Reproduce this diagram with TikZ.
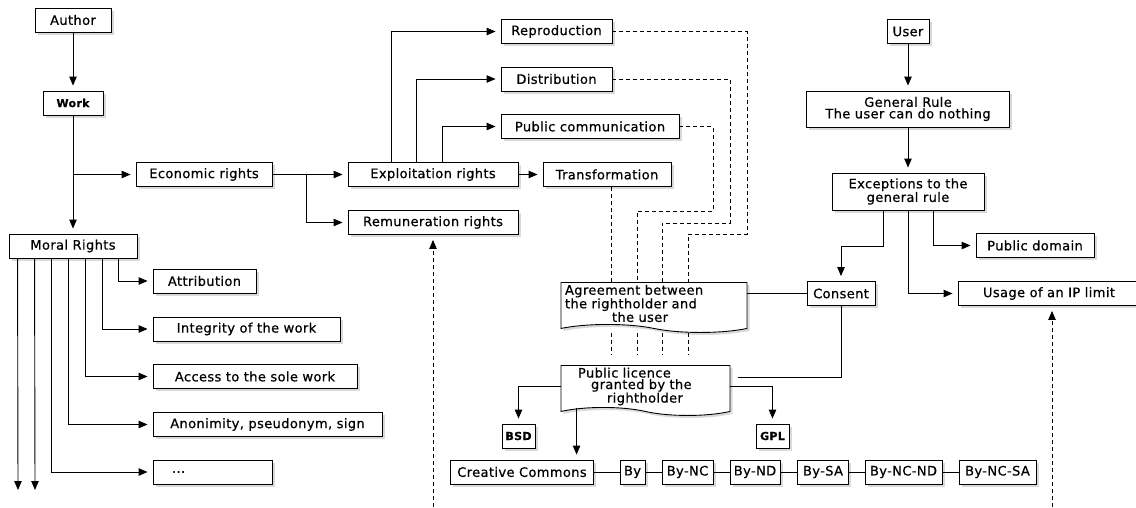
\documentclass[tikz,border=0pt]{standalone}
\usepackage{fontspec}
\setmainfont{DejaVu Sans}[LetterSpace=3.0, FakeBold=0.6]
\usetikzlibrary{arrows.meta, positioning, shapes.symbols, shadows}

\begin{document}
\begin{tikzpicture}[x=1pt, y=1pt, on grid, line width=0.9pt, >={Triangle[length=9pt,width=7.5pt]},
    font=\fontsize{13}{11.5}\selectfont,
    bx/.style={draw, fill=white, minimum height=24pt, inner sep=2pt,
      drop shadow={shadow xshift=2.5pt, shadow yshift=-2.5pt, opacity=.3}},
    sbx/.style={bx, font=\fontsize{11}{12}\selectfont\bfseries},
    doc/.style={bx, shape=tape, tape bend top=none, tape bend bottom=out and in,
      tape bend height=8pt, minimum height=50pt, align=left, anchor=north},
    arr/.style={->, shorten >=5pt},
    dline/.style={dash pattern=on 4pt off 3pt}]
  \useasboundingbox (0,0) rectangle (1136,-507);

  % author side
  \node[bx, minimum width=76pt] (author) at (73,-20) {Author};
  \node[sbx, minimum width=60pt, below=83pt of author] (work) {Work};
  \node[bx, minimum width=128pt, below=143pt of work] (moral) {Moral Rights};
  \node[bx, minimum width=136pt] (econ) at (204,-174.5) {Economic rights};
  \node[bx, minimum width=103pt] (attrib) at (204.5,-281) {Attribution};
  \node[bx, minimum width=187pt] (integ) at (246.5,-329) {Integrity of the work};
  \node[bx, minimum width=204pt] (access) at (255,-376.5) {Access to the sole work};
  \node[bx, minimum width=229pt] (anon) at (267.5,-424.5) {Anonimity, pseudonym, sign};
  \node[bx, minimum width=119pt, text width=81pt, align=left] (dots) at (212.5,-472) {...};

  % exploitation
  \node[bx, minimum width=170pt] (exploit) at (433,-174.5) {Exploitation rights};
  \node[bx, minimum width=170pt, below=48pt of exploit] (remun) {Remuneration rights};
  \node[bx, minimum width=111pt] (repro) at (556.5,-31.5) {Reproduction};
  \node[bx, minimum width=111pt, below=47.5pt of repro] (distr) {Distribution};
  \node[bx, minimum width=178pt] (pubcom) at (590,-126.5) {Public communication};
  \node[bx, minimum width=128pt] (transf) at (607,-174.5) {Transformation};

  % licences
  \node[doc, minimum width=186pt, text width=178pt] (agree) at (654,-282)
    {Agreement between\\the rightholder and\\\hspace*{47pt}the user};
  \node[bx, minimum width=68pt] (consent) at (841,-293.5) {Consent};
  \node[doc, minimum width=169pt, text width=161pt] (publicl) at (645.5,-365)
    {\hspace*{13pt}Public licence\\\hspace*{26pt}granted by the\\\hspace*{42pt}rightholder};
  \node[sbx, minimum width=33pt] (bsd) at (518.5,-436) {BSD};
  \node[sbx, minimum width=33pt] (gpl) at (772.5,-436) {GPL};
  \node[bx, minimum width=143pt] (cc) at (522,-472) {Creative Commons};
  \node[bx, minimum width=25pt, right=110.5pt of cc] (by) {By};
  \node[bx, minimum width=51pt, right=55pt of by] (bync) {By-NC};
  \node[bx, minimum width=50pt, right=67.5pt of bync] (bynd) {By-ND};
  \node[bx, minimum width=51pt, right=68pt of bynd] (bysa) {By-SA};
  \node[bx, minimum width=77pt, right=80.5pt of bysa] (byncnd) {By-NC-ND};
  \node[bx, minimum width=77pt, right=94pt of byncnd] (byncsa) {By-NC-SA};

  % user side
  \node[bx, minimum width=42pt] (user) at (908,-31.5) {User};
  \node[bx, minimum width=203pt, minimum height=36pt, align=center, below=77.5pt of user] (general)
    {General Rule\\The user can do nothing};
  \node[bx, minimum width=152pt, minimum height=37pt, align=center, below=82.5pt of general] (except)
    {Exceptions to the\\general rule};
  \node[bx, minimum width=118pt] (pubdom) at (1035,-245.5) {Public domain};
  \node[bx, minimum width=182pt] (usage) at (1049,-293.5) {Usage of an IP limit};

  \coordinate (mfree1) at (18,-490);
  \coordinate (mfree2) at (35,-490);
  \coordinate (remfree) at (433,-507);
  \coordinate (usefree) at (1052,-507);
  \coordinate (plin) at (738,-377);
  \coordinate (jpc) at (713,-211); \coordinate (kpc) at (637,-211);
  \coordinate (jdi) at (730,-223); \coordinate (kdi) at (662,-223);
  \coordinate (jre) at (747,-234); \coordinate (kre) at (688,-234);
  \coordinate (ktr) at ([xshift=4pt]transf.south);
  \coordinate (plcc) at ([xshift=16pt]publicl.south west);

  \draw[arr] (author) -- (work);
  \draw[arr] (work) -- (moral);
  \draw[arr] (work |- econ) -- (econ);
  \foreach \dx/\tgt in {110/attrib, 94/integ, 77/access, 60/anon, 43/dots}
    \draw[arr] ([xshift=\dx pt]moral.south west) |- (\tgt);
  \foreach \dx/\c in {9/mfree1, 26/mfree2}
    \draw[->] ([xshift=\dx pt]moral.south west) -- (\c);

  \draw[arr] (econ) -- (exploit);
  \draw[arr] ([xshift=34pt]econ.east) |- (remun);
  \foreach \dx/\tgt in {-42/repro, -17/distr, 9/pubcom}
    \draw[arr] ([xshift=\dx pt]exploit.north) |- (\tgt);
  \draw[arr] (exploit) -- (transf);

  \draw[dline] (pubcom) -| (jpc) -- (kpc) -- (kpc |- agree.north);
  \draw[dline] (distr) -| (jdi) -- (kdi) -- (kdi |- agree.north);
  \draw[dline] (repro) -| (jre) -- (kre) -- (kre |- agree.north);
  \draw[dline] (ktr) -- (ktr |- agree.north);
  \foreach \c in {ktr, kpc, kdi, kre}
    \draw[dline, shorten <=8pt, shorten >=10pt] (\c |- agree.south) -- (\c |- publicl.north);

  \draw (agree.east |- consent) -- (consent);
  \draw (consent) |- (plin);
  \draw[arr] (publicl.west) -| (bsd);
  \draw[arr] (publicl.east) -| (gpl);
  \draw[arr] (plcc) -- (plcc |- cc.north);
  \foreach \a/\b in {cc/by, by/bync, bync/bynd, bynd/bysa, bysa/byncnd, byncnd/byncsa}
    \draw (\a) -- (\b);

  \draw[arr] (user) -- (general);
  \draw[arr] (general) -- (except);
  \draw[arr] ([xshift=-25pt]except.south) -- ++(0,-36) -| (consent);
  \draw[arr] (except) |- (usage);
  \draw[arr] ([xshift=25pt]except.south) |- (pubdom);
  \draw[arr, dline] (remfree) -- (remun);
  \draw[arr, dline] (usefree) -- (usefree |- usage.south);
\end{tikzpicture}
\end{document}
